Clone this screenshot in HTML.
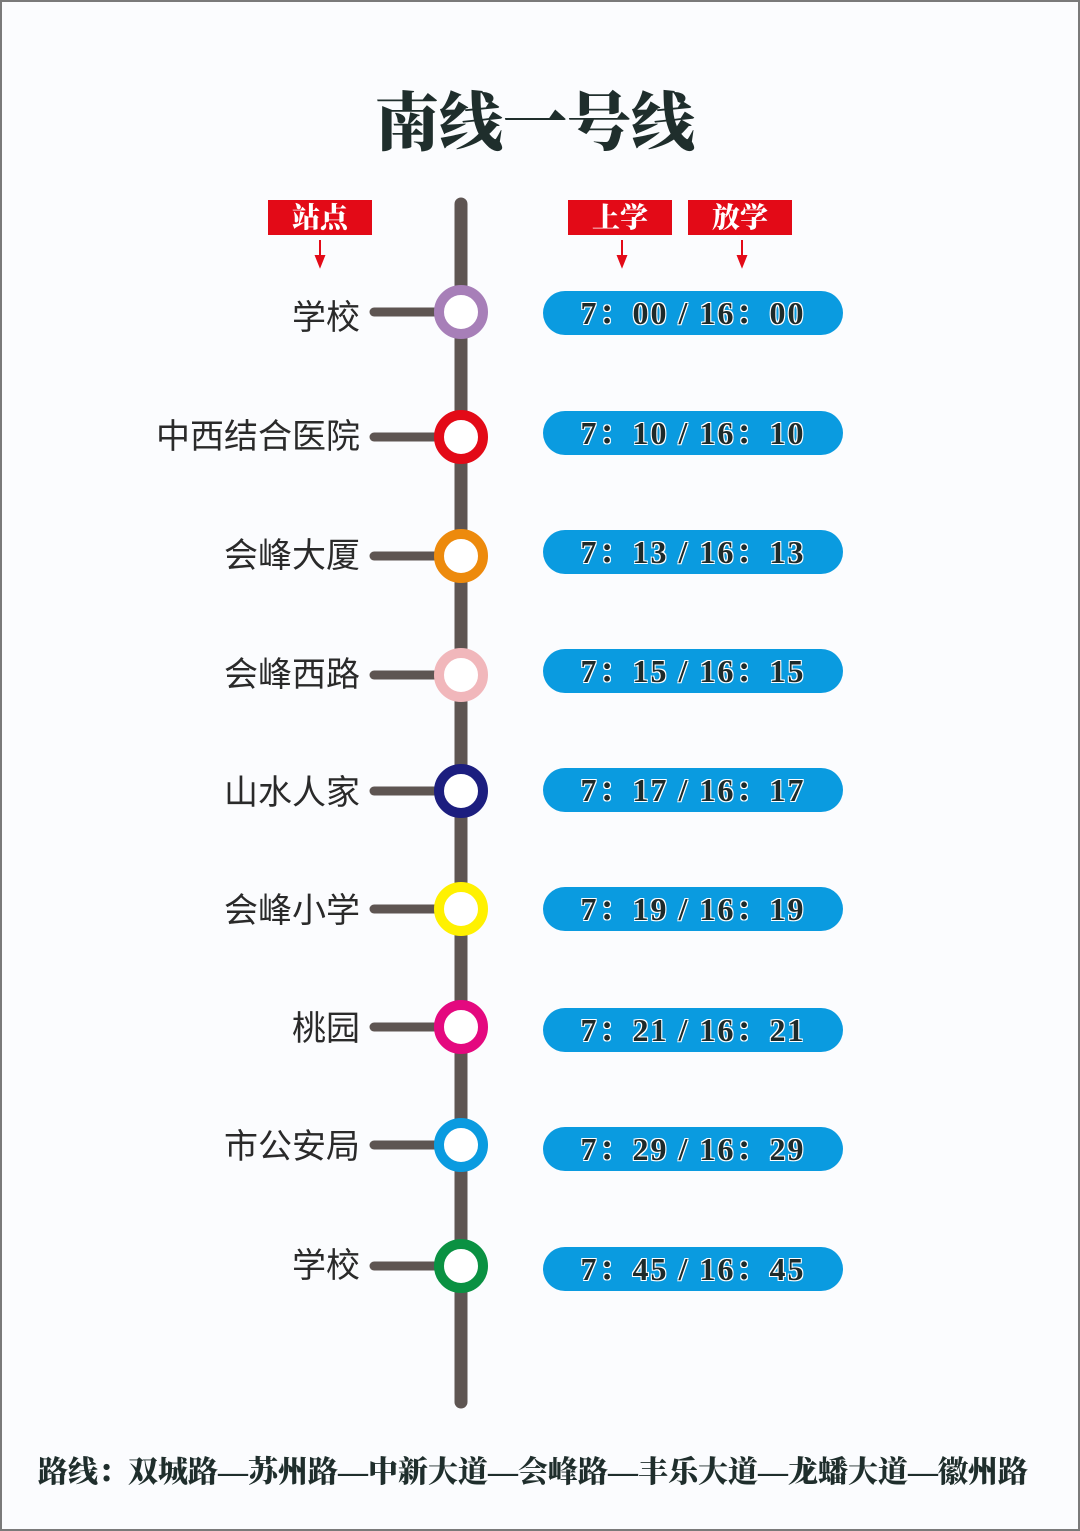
<!DOCTYPE html>
<html><head><meta charset="utf-8"><style>
html,body{margin:0;padding:0;}
body{width:1080px;height:1531px;position:relative;background:#fbfcfe;overflow:hidden;font-family:"Liberation Sans","Noto Sans CJK SC",sans-serif;}
.frame{position:absolute;left:0;top:0;width:1076px;height:1527px;border:2px solid #7a7a7a;}
.title{position:absolute;left:0;width:1070px;top:84px;text-align:center;font-family:"Liberation Serif","Noto Serif CJK SC",serif;font-weight:900;font-size:64px;line-height:80px;color:#1f2e2c;}
.hdr{position:absolute;top:200px;height:35px;width:104px;background:#e30a17;color:#fff;font-family:"Liberation Serif","Noto Serif CJK SC",serif;font-weight:900;font-size:28px;line-height:37px;text-align:center;}
.lbl{position:absolute;right:720px;font-size:34px;line-height:40px;color:#2a2a2a;white-space:nowrap;}
.pill{position:absolute;left:543px;width:300px;height:44px;border-radius:22px;background:#0a9be0;text-align:center;font-family:"Liberation Serif","Noto Serif CJK SC",serif;font-weight:bold;font-size:32px;line-height:44px;color:#1d2a2a;text-shadow:-1px -1px 0 #fff,1px -1px 0 #fff,-1px 1px 0 #fff,1px 1px 0 #fff;letter-spacing:2px;white-space:nowrap;}
.foot{position:absolute;left:38px;top:1452px;font-family:"Liberation Serif","Noto Serif CJK SC",serif;font-weight:900;font-size:30px;line-height:42px;color:#1f2e2c;white-space:nowrap;}
</style></head><body>
<div class="frame"></div>
<div class="title">南线一号线</div>
<div class="hdr" style="left:268px">站点</div>
<div class="hdr" style="left:568px">上学</div>
<div class="hdr" style="left:688px">放学</div>
<svg width="1080" height="1531" style="position:absolute;left:0;top:0">
<g stroke="#e30a17" stroke-width="2" fill="#e30a17">
<line x1="320" y1="240" x2="320" y2="258"/><polygon points="316,256 324,256 320,266"/>
<line x1="622" y1="240" x2="622" y2="258"/><polygon points="618,256 626,256 622,266"/>
<line x1="742" y1="240" x2="742" y2="258"/><polygon points="738,256 746,256 742,266"/>
</g>
<line x1="461" y1="204" x2="461" y2="1402" stroke="#5e5552" stroke-width="13" stroke-linecap="round"/>
<g stroke="#5e5552" stroke-width="9" stroke-linecap="round">
<line x1="374" y1="312" x2="440" y2="312"/>
<line x1="374" y1="437" x2="440" y2="437"/>
<line x1="374" y1="556" x2="440" y2="556"/>
<line x1="374" y1="675" x2="440" y2="675"/>
<line x1="374" y1="791" x2="440" y2="791"/>
<line x1="374" y1="909" x2="440" y2="909"/>
<line x1="374" y1="1027" x2="440" y2="1027"/>
<line x1="374" y1="1145" x2="440" y2="1145"/>
<line x1="374" y1="1266" x2="440" y2="1266"/>
</g>
<g fill="#fff" stroke-width="10">
<circle cx="461" cy="312" r="22" stroke="#a77fb8"/>
<circle cx="461" cy="437" r="22" stroke="#e30a17"/>
<circle cx="461" cy="556" r="22" stroke="#ed8a0c"/>
<circle cx="461" cy="675" r="22" stroke="#f1b7bb"/>
<circle cx="461" cy="791" r="22" stroke="#1c1e7f"/>
<circle cx="461" cy="909" r="22" stroke="#fff100"/>
<circle cx="461" cy="1027" r="22" stroke="#e4097f"/>
<circle cx="461" cy="1145" r="22" stroke="#0a9be0"/>
<circle cx="461" cy="1266" r="22" stroke="#0a9142"/>
</g>
</svg>
<div class="lbl" style="top:298px">学校</div>
<div class="lbl" style="top:417px">中西结合医院</div>
<div class="lbl" style="top:536px">会峰大厦</div>
<div class="lbl" style="top:655px">会峰西路</div>
<div class="lbl" style="top:773px">山水人家</div>
<div class="lbl" style="top:891px">会峰小学</div>
<div class="lbl" style="top:1009px">桃园</div>
<div class="lbl" style="top:1127px">市公安局</div>
<div class="lbl" style="top:1246px">学校</div>
<div class="pill" style="top:291px">7：00 / 16：00</div>
<div class="pill" style="top:411px">7：10 / 16：10</div>
<div class="pill" style="top:530px">7：13 / 16：13</div>
<div class="pill" style="top:649px">7：15 / 16：15</div>
<div class="pill" style="top:768px">7：17 / 16：17</div>
<div class="pill" style="top:887px">7：19 / 16：19</div>
<div class="pill" style="top:1008px">7：21 / 16：21</div>
<div class="pill" style="top:1127px">7：29 / 16：29</div>
<div class="pill" style="top:1247px">7：45 / 16：45</div>
<div class="foot">路线：双城路—苏州路—中新大道—会峰路—丰乐大道—龙蟠大道—徽州路</div>
</body></html>
